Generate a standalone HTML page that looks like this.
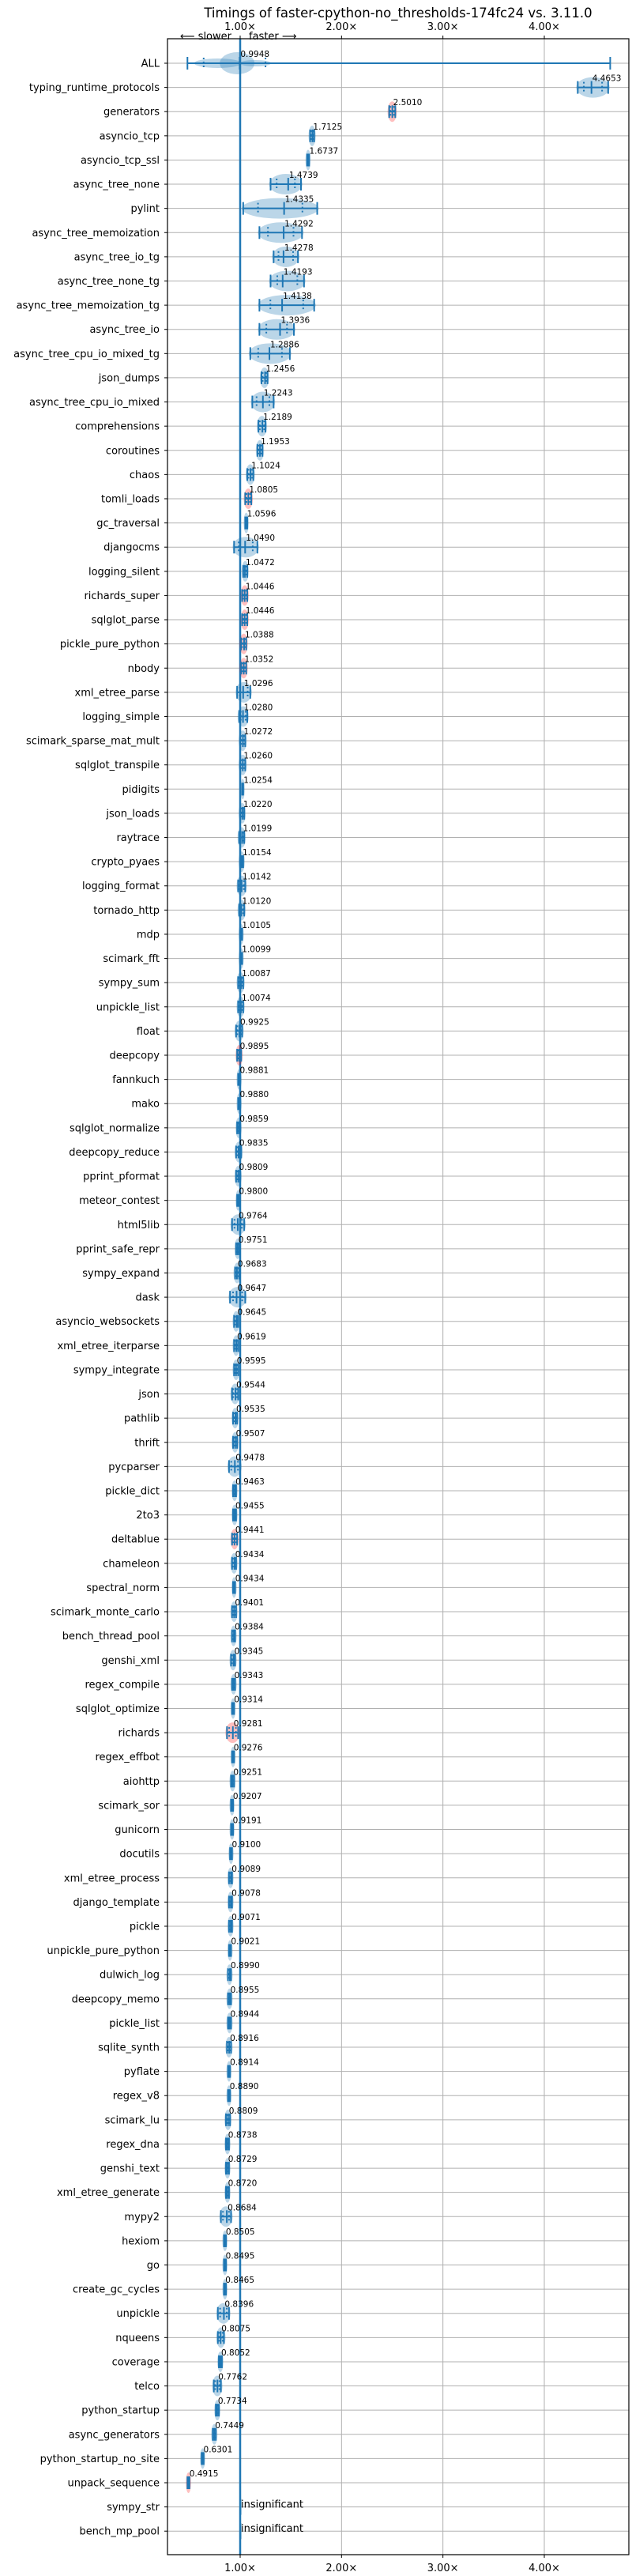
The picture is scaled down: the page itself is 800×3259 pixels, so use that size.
<!DOCTYPE html>
<html><head><meta charset="utf-8">
<style>
html,body{margin:0;padding:0;background:#fff;}
svg{display:block;font-family:"DejaVu Sans","Liberation Sans",sans-serif;}
</style></head>
<body>
<svg id="chart" width="800" height="3259" viewBox="0 0 800 3259" xmlns="http://www.w3.org/2000/svg">
<text x="504" y="22" font-size="16.5" text-anchor="middle">Timings of faster-cpython-no_thresholds-174fc24 vs. 3.11.0</text>
<g id="grid"></g>
<g id="marks"></g>
<g id="axes"></g>
</svg>
<script>
const benchmarks = ["ALL","typing_runtime_protocols","generators","asyncio_tcp","asyncio_tcp_ssl","async_tree_none","pylint","async_tree_memoization","async_tree_io_tg","async_tree_none_tg","async_tree_memoization_tg","async_tree_io","async_tree_cpu_io_mixed_tg","json_dumps","async_tree_cpu_io_mixed","comprehensions","coroutines","chaos","tomli_loads","gc_traversal","djangocms","logging_silent","richards_super","sqlglot_parse","pickle_pure_python","nbody","xml_etree_parse","logging_simple","scimark_sparse_mat_mult","sqlglot_transpile","pidigits","json_loads","raytrace","crypto_pyaes","logging_format","tornado_http","mdp","scimark_fft","sympy_sum","unpickle_list","float","deepcopy","fannkuch","mako","sqlglot_normalize","deepcopy_reduce","pprint_pformat","meteor_contest","html5lib","pprint_safe_repr","sympy_expand","dask","asyncio_websockets","xml_etree_iterparse","sympy_integrate","json","pathlib","thrift","pycparser","pickle_dict","2to3","deltablue","chameleon","spectral_norm","scimark_monte_carlo","bench_thread_pool","genshi_xml","regex_compile","sqlglot_optimize","richards","regex_effbot","aiohttp","scimark_sor","gunicorn","docutils","xml_etree_process","django_template","pickle","unpickle_pure_python","dulwich_log","deepcopy_memo","pickle_list","sqlite_synth","pyflate","regex_v8","scimark_lu","regex_dna","genshi_text","xml_etree_generate","mypy2","hexiom","go","create_gc_cycles","unpickle","nqueens","coverage","telco","python_startup","async_generators","python_startup_no_site","unpack_sequence","sympy_str","bench_mp_pool"];
const means = [0.9948,4.4653,2.5010,1.7125,1.6737,1.4739,1.4335,1.4292,1.4278,1.4193,1.4138,1.3936,1.2886,1.2456,1.2243,1.2189,1.1953,1.1024,1.0805,1.0596,1.0490,1.0472,1.0446,1.0446,1.0388,1.0352,1.0296,1.0280,1.0272,1.0260,1.0254,1.0220,1.0199,1.0154,1.0142,1.0120,1.0105,1.0099,1.0087,1.0074,0.9925,0.9895,0.9881,0.9880,0.9859,0.9835,0.9809,0.9800,0.9764,0.9751,0.9683,0.9647,0.9645,0.9619,0.9595,0.9544,0.9535,0.9507,0.9478,0.9463,0.9455,0.9441,0.9434,0.9434,0.9401,0.9384,0.9345,0.9343,0.9314,0.9281,0.9276,0.9251,0.9207,0.9191,0.9100,0.9089,0.9078,0.9071,0.9021,0.8990,0.8955,0.8944,0.8916,0.8914,0.8890,0.8809,0.8738,0.8729,0.8720,0.8684,0.8505,0.8495,0.8465,0.8396,0.8075,0.8052,0.7762,0.7734,0.7449,0.6301,0.4915,null,null];
const lows = [0.48,4.33,2.47,1.69,1.66,1.30,1.03,1.19,1.33,1.30,1.19,1.19,1.10,1.21,1.12,1.18,1.17,1.07,1.05,1.05,0.94,1.03,1.02,1.02,1.01,1.01,0.97,0.99,1.00,1.00,1.02,1.00,0.99,1.00,0.98,0.99,1.00,1.00,0.98,0.98,0.96,0.97,0.98,0.98,0.97,0.96,0.96,0.97,0.92,0.96,0.95,0.90,0.94,0.94,0.94,0.92,0.93,0.93,0.89,0.93,0.93,0.92,0.92,0.93,0.92,0.92,0.91,0.92,0.92,0.87,0.92,0.91,0.91,0.91,0.90,0.89,0.89,0.89,0.89,0.88,0.88,0.88,0.87,0.88,0.88,0.86,0.86,0.86,0.86,0.81,0.84,0.84,0.84,0.78,0.78,0.79,0.74,0.76,0.73,0.62,0.48,null,null];
const highs = [4.65,4.63,2.53,1.73,1.68,1.60,1.76,1.61,1.57,1.63,1.73,1.53,1.49,1.27,1.33,1.25,1.22,1.13,1.11,1.07,1.17,1.07,1.07,1.07,1.06,1.06,1.10,1.07,1.05,1.05,1.03,1.04,1.04,1.03,1.05,1.04,1.02,1.02,1.03,1.03,1.02,1.01,1.00,1.00,1.00,1.01,1.00,0.99,1.04,0.99,0.99,1.05,0.98,0.98,0.98,0.98,0.97,0.97,1.00,0.96,0.96,0.97,0.96,0.95,0.96,0.95,0.95,0.95,0.94,0.98,0.94,0.94,0.93,0.93,0.92,0.92,0.92,0.92,0.91,0.91,0.91,0.91,0.91,0.90,0.90,0.90,0.89,0.89,0.89,0.91,0.86,0.86,0.86,0.89,0.84,0.82,0.81,0.79,0.76,0.64,0.50,null,null];
const colors = ["b","b","r","b","b","b","b","b","b","b","b","b","b","b","b","b","b","b","r","b","b","b","r","r","r","r","b","b","b","b","b","b","b","b","b","b","b","b","b","b","b","r","b","b","b","b","b","b","b","b","b","b","b","b","b","b","b","b","b","b","b","r","b","b","b","b","b","b","b","r","b","b","b","b","b","b","b","b","b","b","b","b","b","b","b","b","b","b","b","b","b","b","b","b","b","b","b","b","b","b","r","b","b"];
const xTicks = [1,2,3,4];
const xTickLabels = ["1.00×","2.00×","3.00×","4.00×"];

const NS="http://www.w3.org/2000/svg";
const L=212,R=796,T=49,B=3232;
const X=v=>304+(v-1)*128.33;
const Y=i=>80+i*30.61;
const BLUE="#1f77b4";
function mk(tag,attrs,parent){const e=document.createElementNS(NS,tag);for(const k in attrs)e.setAttribute(k,attrs[k]);parent.appendChild(e);return e;}
const grid=document.getElementById('grid'),marks=document.getElementById('marks'),axes=document.getElementById('axes');

xTicks.forEach((t,k)=>{
  const g=mk('line',{x1:X(t),x2:X(t),y1:T,y2:B,stroke:"#b0b0b0","stroke-width":1},grid);
  
  
  const tt=mk('text',{x:X(t),y:38,"font-size":13,"text-anchor":"middle"},axes);tt.textContent=xTickLabels[k];
  
  
  const tb=mk('text',{x:X(t),y:3253,"font-size":13,"text-anchor":"middle"},axes);tb.textContent=xTickLabels[k];
  
  
  mk('line',{x1:X(t),x2:X(t),y1:B,y2:B+4,stroke:"#000"},axes);
  mk('line',{x1:X(t),x2:X(t),y1:T,y2:T-4,stroke:"#000"},axes);
});
benchmarks.forEach((name,i)=>{
  const y=Y(i);
  const g=mk('line',{x1:L,x2:R,y1:y,y2:y,stroke:"#b0b0b0","stroke-width":1},grid);
  
  
  mk('line',{x1:L-4,x2:L,y1:y,y2:y,stroke:"#000"},axes);
  const t=mk('text',{x:202,y:y+4.5,"font-size":13,"text-anchor":"end"},axes);t.textContent=name;
  
  
});
// reference line at 1.0
const ref=mk('line',{x1:X(1),x2:X(1),y1:T,y2:B,stroke:BLUE,"stroke-width":2.5},marks);



benchmarks.forEach((name,i)=>{
  const y=Y(i),m=means[i];
  if(m===null){
    mk('rect',{x:X(1)-1,y:y-10,width:3,height:20,fill:BLUE,"fill-opacity":0.3},marks);
    const t=mk('text',{x:X(1)+1,y:y+1,"font-size":13},marks);t.textContent="insignificant";
    
    
    return;
  }
  const lo=lows[i],hi=highs[i];
  const g=mk('g',{},marks);
  
  
  const fill=colors[i]==="r"?"#ff0000":BLUE;
  const fop=colors[i]==="r"?0.25:0.3;
  let vlo=lo,vhi=hi;
  if(i===0){vlo=0.6;vhi=1.3;}
  const cx=(X(vlo)+X(vhi))/2,rx=Math.max(2,(X(vhi)-X(vlo))/2+2);
  const ry=i===0?14:13;
  if(i===0){
    mk('ellipse',{cx:X(0.97),cy:y,rx:22,ry:14,fill:fill,"fill-opacity":fop},g);
    mk('ellipse',{cx:X(0.78),cy:y,rx:30,ry:6,fill:fill,"fill-opacity":fop},g);
    mk('ellipse',{cx:X(1.15),cy:y,rx:20,ry:4,fill:fill,"fill-opacity":fop},g);
  } else {
    mk('ellipse',{cx:cx,cy:y,rx:rx,ry:ry,fill:fill,"fill-opacity":fop},g);
  }
  const x1=X(lo),x2=X(hi);
  mk('line',{x1:x1,x2:x2,y1:y,y2:y,stroke:BLUE,"stroke-width":2},g);
  mk('line',{x1:x1,x2:x1,y1:y-8,y2:y+8,stroke:BLUE,"stroke-width":2},g);
  mk('line',{x1:x2,x2:x2,y1:y-8,y2:y+8,stroke:BLUE,"stroke-width":2},g);
  mk('line',{x1:X(m),x2:X(m),y1:y-8,y2:y+8,stroke:BLUE,"stroke-width":2},g);
  const q1=i===0?0.64:lo+(hi-lo)*0.2,q3=i===0?1.25:lo+(hi-lo)*0.8;
  [q1,q3].forEach(q=>mk('line',{x1:X(q),x2:X(q),y1:y-7,y2:y+7,stroke:BLUE,"stroke-width":2,"stroke-dasharray":"2,3"},g));
  const t=mk('text',{x:X(m)+1,y:y-8,"font-size":10.5},marks);t.textContent=m.toFixed(4);
  
  
});

// slower / faster annotation
const sl=mk('text',{x:293,y:50,"font-size":13,"text-anchor":"end"},axes);sl.textContent="⟵ slower";


const fa=mk('text',{x:315,y:50,"font-size":13},axes);fa.textContent="faster ⟶";



const frame=mk('rect',{x:L,y:T,width:R-L,height:B-T,fill:"none",stroke:"#000","stroke-width":1.2},axes);


</script>
</body></html>
